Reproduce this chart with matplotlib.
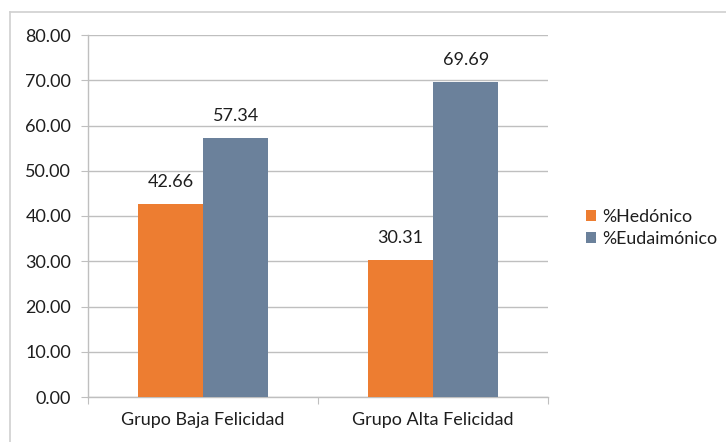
import matplotlib
matplotlib.use("Agg")
import matplotlib.pyplot as plt
from matplotlib.lines import Line2D
import numpy as np

plt.rcParams['font.family'] = ['Lato', 'DejaVu Sans']

categories = ["Grupo Baja Felicidad", "Grupo Alta Felicidad"]
hedonico = [42.66, 30.31]
eudaimonico = [57.34, 69.69]
series_names = ["%Hedónico", "%Eudaimónico"]
y_ticks = [0, 10, 20, 30, 40, 50, 60, 70, 80]

orange = "#ED7D31"
blue = "#6B819B"
grid_col = "#BFBFBF"
txt = "#1E1E1E"
fs = 13.0

fig = plt.figure(figsize=(7.26, 4.42), dpi=100)
ax = fig.add_axes([88 / 726, 1 - 397 / 442, 460 / 726, 362 / 442])

x = np.arange(len(categories))
w = 0.284
b1 = ax.bar(x - w / 2, hedonico, w, color=orange, label=series_names[0], zorder=3)
b2 = ax.bar(x + w / 2, eudaimonico, w, color=blue, label=series_names[1], zorder=3)

for bars, vals in ((b1, hedonico), (b2, eudaimonico)):
    for r, v in zip(bars, vals):
        ax.text(r.get_x() + r.get_width() / 2, v + 4.8, f"{v:.2f}",
                ha="center", va="center", fontsize=fs, color=txt)

ax.set_xlim(-0.5, 1.5)
ax.set_ylim(0, 80)
ax.set_yticks(y_ticks)
ax.set_yticklabels([f"{t:.2f}" for t in y_ticks])
ax.yaxis.grid(True, color=grid_col, linewidth=1.0, zorder=0)

# category ticks sit between the groups
ax.set_xticks([-0.5, 0.5, 1.5], minor=False)
ax.set_xticklabels([])
ax.set_xticks(x, minor=True)
ax.set_xticklabels(categories, minor=True)
ax.tick_params(axis="x", which="major", length=5, color=grid_col, direction="out")
ax.tick_params(axis="x", which="minor", length=0, pad=11, labelsize=fs, labelcolor=txt)
ax.tick_params(axis="y", length=5, color=grid_col, labelsize=fs, labelcolor=txt, pad=7)

for s in ("top", "right"):
    ax.spines[s].set_visible(False)
for s in ("left", "bottom"):
    ax.spines[s].set_color(grid_col)
    ax.spines[s].set_linewidth(1.0)

leg = ax.legend(loc="center left", bbox_to_anchor=(577 / 726, 1 - 228 / 442),
                bbox_transform=fig.transFigure, frameon=False, fontsize=12.8,
                handlelength=0.55, handleheight=0.55, handletextpad=0.35,
                labelspacing=0.35, borderpad=0)
for t in leg.get_texts():
    t.set_color(txt)

# light frame around the chart area
fig.add_artist(Line2D([10 / 726, 10 / 726], [0, 1 - 12 / 442], color="#D0D0D0",
                      linewidth=1.2, transform=fig.transFigure))
fig.add_artist(Line2D([10 / 726, 1], [1 - 12 / 442, 1 - 12 / 442], color="#D0D0D0",
                      linewidth=1.2, transform=fig.transFigure))

fig.savefig("out.png", dpi=100)
